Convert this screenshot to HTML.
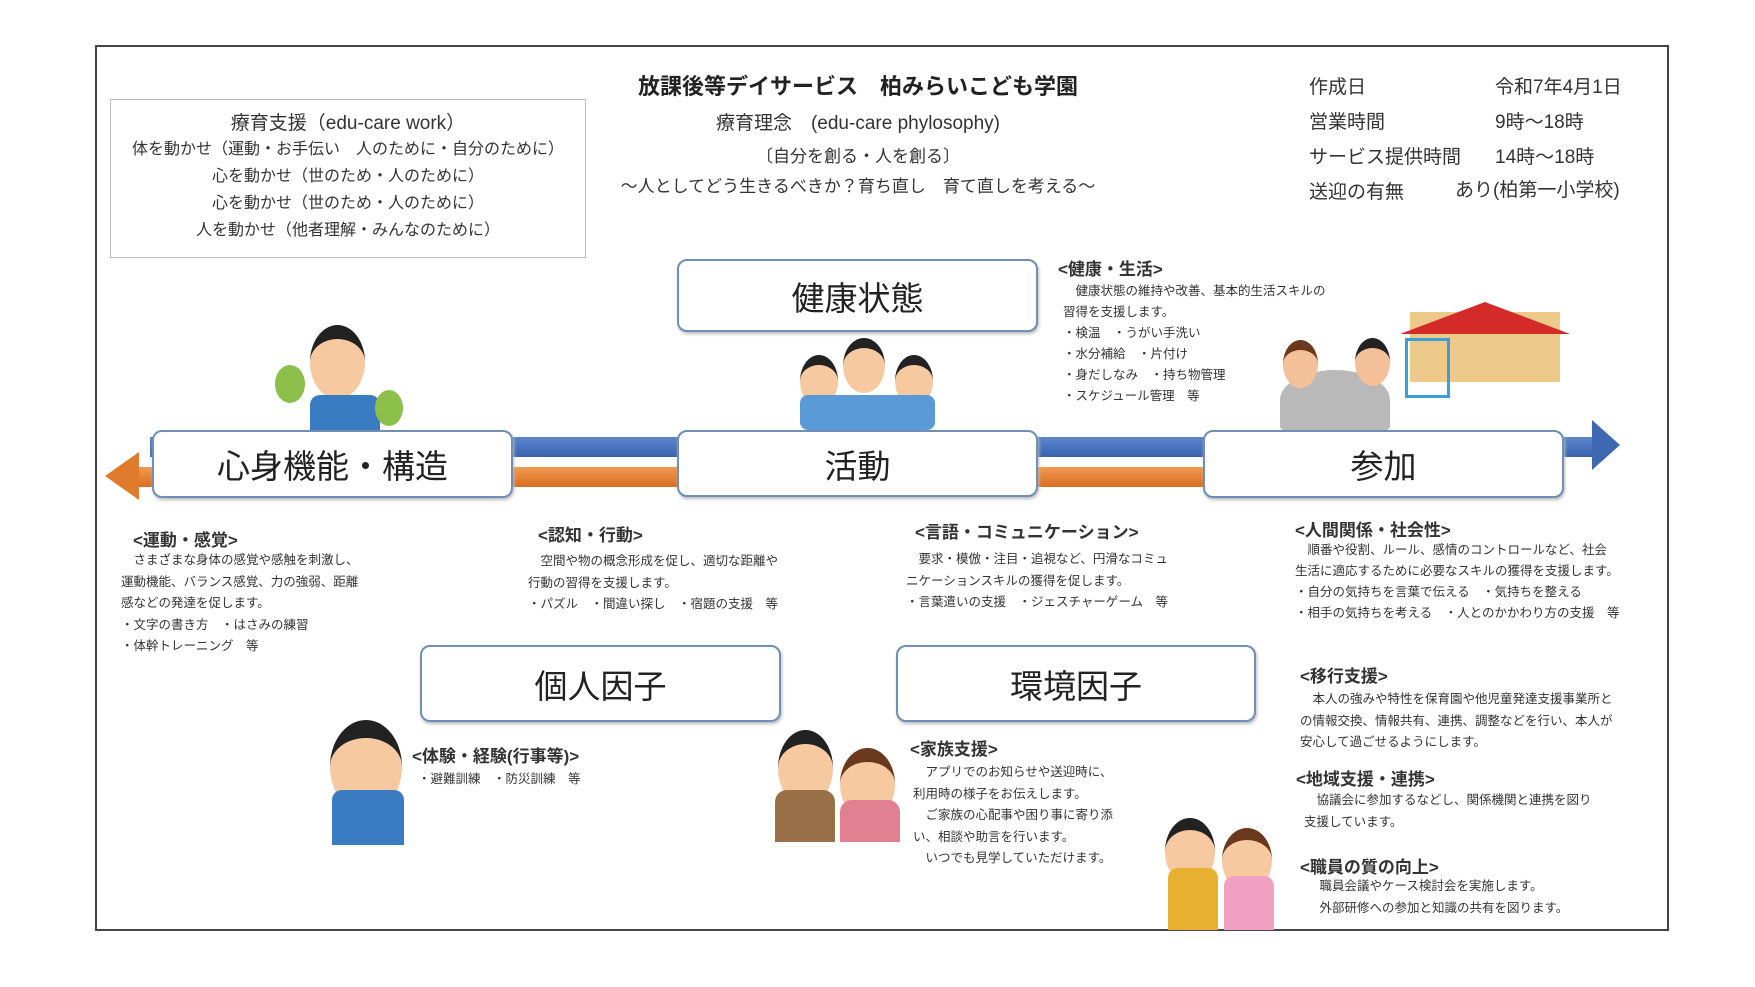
<!DOCTYPE html>
<html><head><meta charset="utf-8">
<style>
body{margin:0;width:1755px;height:987px;background:#fff;position:relative;overflow:hidden;font-family:"Liberation Sans","Noto Sans CJK JP",sans-serif;color:#222}
.a{position:absolute;white-space:nowrap}
.frame{position:absolute;left:95px;top:45px;width:1574px;height:886px;border:2px solid #444;box-sizing:border-box}
.box{position:absolute;background:#fff;border:2px solid #6f8fb5;border-radius:10px;box-sizing:border-box;display:flex;align-items:center;justify-content:center;font-size:33px;color:#222;box-shadow:1px 2px 3px #bbb}
.h{font-size:17px;font-weight:bold;color:#333}
.t{font-size:12.5px;line-height:21.5px;color:#333}
.c{border-radius:50%;position:absolute}
</style></head><body>
<div class="frame"></div>
<div class="a" style="left:0;width:1716px;top:69px;text-align:center;font-size:22px;font-weight:bold">放課後等デイサービス　柏みらいこども学園</div>
<div class="a" style="left:0;width:1716px;top:108px;text-align:center;font-size:19px;color:#333">療育理念　(edu-care phylosophy)</div>
<div class="a" style="left:0;width:1716px;top:142px;text-align:center;font-size:17px;color:#333">〔自分を創る・人を創る〕</div>
<div class="a" style="left:0;width:1716px;top:172px;text-align:center;font-size:17px;color:#333">～人としてどう生きるべきか？育ち直し　育て直しを考える～</div>

<div class="a" style="left:110px;top:99px;width:476px;height:159px;border:1px solid #bbb;box-sizing:border-box;text-align:center;color:#333">
<div style="font-size:19px;margin-top:8px">療育支援（edu-care work）</div>
<div style="font-size:16px;line-height:27px;margin-top:1px">体を動かせ（運動・お手伝い　人のために・自分のために）<br>心を動かせ（世のため・人のために）<br>心を動かせ（世のため・人のために）<br>人を動かせ（他者理解・みんなのために）</div></div>

<div class="a" style="left:1309px;top:70px;font-size:19px;line-height:35px;color:#333">作成日<br>営業時間<br>サービス提供時間<br>送迎の有無</div>
<div class="a" style="left:1495px;top:70px;font-size:19px;line-height:35px;color:#333">令和7年4月1日<br>9時～18時<br>14時～18時</div>
<div class="a" style="left:1455px;top:175px;font-size:19px;color:#333">あり(柏第一小学校)</div>

<!-- arrows -->
<div class="a" style="left:150px;top:437px;width:1445px;height:20px;background:linear-gradient(#5a86cc,#3a62ae)"></div>
<svg class="a" style="left:1592px;top:420px" width="30" height="55"><polygon points="0,0 28,25 0,50" fill="#3f68b3"/></svg>
<div class="a" style="left:135px;top:467px;width:1080px;height:20px;background:linear-gradient(#f09a50,#d96e22)"></div>
<svg class="a" style="left:105px;top:452px" width="35" height="50"><polygon points="34,0 0,24 34,48" fill="#e07a2c"/></svg>

<div class="box" style="left:677px;top:259px;width:361px;height:73px">健康状態</div>
<div class="box" style="left:152px;top:430px;width:361px;height:68px">心身機能・構造</div>
<div class="box" style="left:677px;top:430px;width:361px;height:67px">活動</div>
<div class="box" style="left:1203px;top:430px;width:361px;height:68px">参加</div>
<div class="box" style="left:420px;top:645px;width:361px;height:77px">個人因子</div>
<div class="box" style="left:896px;top:645px;width:360px;height:77px">環境因子</div>

<!-- illustrations (approx) -->
<div class="c" style="left:310px;top:325px;width:55px;height:60px;background:#f6c9a0;border-top:14px solid #222"></div>
<div class="a" style="left:310px;top:395px;width:70px;height:35px;background:#3a7cc2;border-radius:10px 10px 0 0"></div>
<div class="c" style="left:275px;top:365px;width:30px;height:38px;background:#8cc04a"></div>
<div class="c" style="left:375px;top:390px;width:28px;height:36px;background:#8cc04a"></div>

<div class="c" style="left:800px;top:355px;width:38px;height:42px;background:#f6c9a0;border-top:10px solid #222"></div>
<div class="c" style="left:843px;top:338px;width:42px;height:45px;background:#f6c9a0;border-top:10px solid #222"></div>
<div class="c" style="left:895px;top:355px;width:38px;height:42px;background:#f6c9a0;border-top:10px solid #222"></div>
<div class="a" style="left:800px;top:395px;width:135px;height:35px;background:#5a9ad6;border-radius:8px"></div>

<div class="a" style="left:1410px;top:312px;width:150px;height:70px;background:#edc98a"></div>
<svg class="a" style="left:1400px;top:298px" width="170" height="40"><polygon points="0,36 85,4 170,36" fill="#d42a2a"/></svg>
<div class="a" style="left:1405px;top:338px;width:45px;height:60px;border:3px solid #3a9ed8;box-sizing:border-box"></div>
<div class="a" style="left:1280px;top:370px;width:110px;height:60px;background:#b9b9b9;border-radius:50% 50% 4px 4px"></div>
<div class="c" style="left:1283px;top:340px;width:35px;height:38px;background:#f4c09a;border-top:10px solid #6b3a1e"></div>
<div class="c" style="left:1355px;top:338px;width:35px;height:38px;background:#f4c09a;border-top:10px solid #222"></div>

<div class="c" style="left:330px;top:720px;width:72px;height:75px;background:#f6c9a0;border-top:18px solid #222"></div>
<div class="a" style="left:332px;top:790px;width:72px;height:55px;background:#3a7cc2;border-radius:10px 10px 0 0"></div>
<div class="c" style="left:778px;top:730px;width:55px;height:62px;background:#f6c9a0;border-top:14px solid #222"></div>
<div class="a" style="left:775px;top:790px;width:60px;height:52px;background:#9a7048;border-radius:12px 12px 0 0"></div>
<div class="c" style="left:840px;top:748px;width:55px;height:58px;background:#f6c9a0;border-top:14px solid #6b3a1e"></div>
<div class="a" style="left:840px;top:800px;width:60px;height:42px;background:#e08090;border-radius:12px 12px 0 0"></div>
<div class="c" style="left:1165px;top:818px;width:50px;height:55px;background:#f6c9a0;border-top:12px solid #222"></div>
<div class="a" style="left:1168px;top:868px;width:50px;height:62px;background:#e8b030;border-radius:10px 10px 0 0"></div>
<div class="c" style="left:1222px;top:828px;width:50px;height:52px;background:#f6c9a0;border-top:12px solid #6b3a1e"></div>
<div class="a" style="left:1224px;top:876px;width:50px;height:54px;background:#f0a0c0;border-radius:10px 10px 0 0"></div>

<!-- text blocks -->
<div class="a h" style="left:133px;top:526px">&lt;運動・感覚&gt;</div>
<div class="a t" style="left:121px;top:550px">　さまざまな身体の感覚や感触を刺激し、<br>運動機能、バランス感覚、力の強弱、距離<br>感などの発達を促します。<br>・文字の書き方　・はさみの練習<br>・体幹トレーニング　等</div>

<div class="a h" style="left:538px;top:521px">&lt;認知・行動&gt;</div>
<div class="a t" style="left:528px;top:551px">　空間や物の概念形成を促し、適切な距離や<br>行動の習得を支援します。<br>・パズル　・間違い探し　・宿題の支援　等</div>

<div class="a h" style="left:915px;top:518px">&lt;言語・コミュニケーション&gt;</div>
<div class="a t" style="left:906px;top:549px">　要求・模倣・注目・追視など、円滑なコミュ<br>ニケーションスキルの獲得を促します。<br>・言葉遣いの支援　・ジェスチャーゲーム　等</div>

<div class="a h" style="left:1295px;top:516px">&lt;人間関係・社会性&gt;</div>
<div class="a t" style="left:1295px;top:540px;line-height:21px">　順番や役割、ルール、感情のコントロールなど、社会<br>生活に適応するために必要なスキルの獲得を支援します。<br>・自分の気持ちを言葉で伝える　・気持ちを整える<br>・相手の気持ちを考える　・人とのかかわり方の支援　等</div>

<div class="a h" style="left:1058px;top:255px">&lt;健康・生活&gt;</div>
<div class="a t" style="left:1063px;top:281px;line-height:21px">　健康状態の維持や改善、基本的生活スキルの<br>習得を支援します。<br>・検温　・うがい手洗い<br>・水分補給　・片付け<br>・身だしなみ　・持ち物管理<br>・スケジュール管理　等</div>

<div class="a h" style="left:1300px;top:662px">&lt;移行支援&gt;</div>
<div class="a t" style="left:1300px;top:689px">　本人の強みや特性を保育園や他児童発達支援事業所と<br>の情報交換、情報共有、連携、調整などを行い、本人が<br>安心して過ごせるようにします。</div>

<div class="a h" style="left:1296px;top:765px">&lt;地域支援・連携&gt;</div>
<div class="a t" style="left:1304px;top:790px">　協議会に参加するなどし、関係機関と連携を図り<br>支援しています。</div>

<div class="a h" style="left:1300px;top:853px">&lt;職員の質の向上&gt;</div>
<div class="a t" style="left:1307px;top:876px">　職員会議やケース検討会を実施します。<br>　外部研修への参加と知識の共有を図ります。</div>

<div class="a h" style="left:910px;top:735px">&lt;家族支援&gt;</div>
<div class="a t" style="left:913px;top:762px">　アプリでのお知らせや送迎時に、<br>利用時の様子をお伝えします。<br>　ご家族の心配事や困り事に寄り添<br>い、相談や助言を行います。<br>　いつでも見学していただけます。</div>

<div class="a h" style="left:412px;top:742px">&lt;体験・経験(行事等)&gt;</div>
<div class="a t" style="left:418px;top:769px">・避難訓練　・防災訓練　等</div>
</body></html>
